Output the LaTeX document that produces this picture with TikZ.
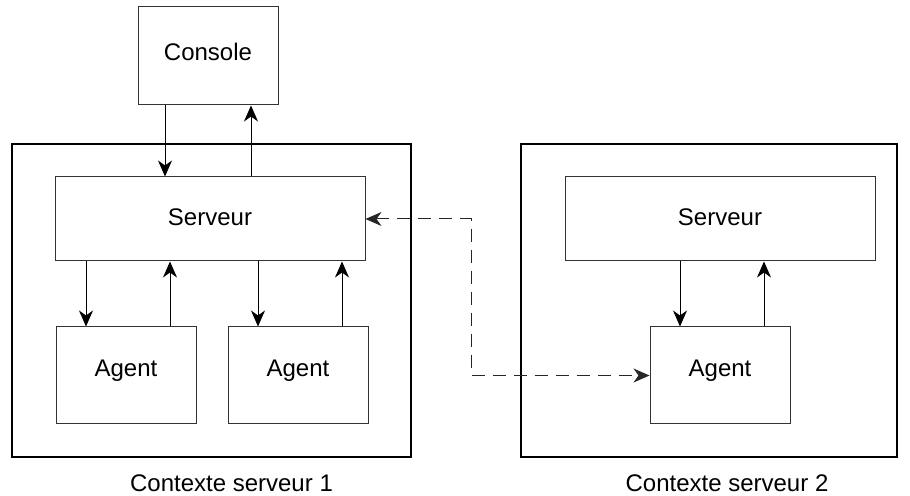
\documentclass[tikz,border=0pt]{standalone}
\usepackage{fontspec}
\setmainfont{Liberation Sans}
\usetikzlibrary{positioning,arrows.meta}

\tikzset{
  box/.style={draw=black!80, line width=0.5pt, minimum width=70pt, minimum height=49pt, text height=9pt, text depth=4.4pt},
  agentbox/.style={box, minimum height=48.5pt, text depth=7.9pt},
  serverbox/.style={box, minimum width=155pt, minimum height=42pt, text depth=2.6pt},
  ctxbox/.style={draw, line width=1.3pt, minimum width=199.5pt, minimum height=156.5pt},
  arr/.style={->, line width=0.5pt},
  dasharr/.style={<->, dash pattern=on 6.5pt off 4pt, line width=0.5pt, black!85}
}

\begin{document}
\begin{tikzpicture}[x=0.5pt, y=-0.5pt, >={Stealth[length=8pt,width=7pt,inset=2.5pt]}, font=\fontsize{12}{14}\selectfont]
  \useasboundingbox (0,0) rectangle (910,496);

  % contexts
  \node[ctxbox] (ctx1) at (211.5,300.5) {};
  \node[ctxbox, minimum width=188pt] (ctx2) at (709,300.5) {};

  \node[box] (console) at (208,56) {Console};
  \node[serverbox] (serv1) at (210,219) {Serveur};
  \node[agentbox] (agent1) at (126,375.5) {Agent};
  \node[agentbox] (agent2) at (298,375.5) {Agent};

  \node[serverbox] (serv2) at (720,219) {Serveur};
  \node[agentbox] (agent3) at (720,375.5) {Agent};

  \draw[arr] ([xshift=-21.5pt]console.south) -- ([xshift=-21.5pt]console.south |- serv1.north);
  \draw[arr] ([xshift=21.5pt]console.south |- serv1.north) -- ([xshift=21.5pt]console.south);

  \foreach \a/\s in {agent1/serv1, agent2/serv1, agent3/serv2} {
    \draw[arr] ([xshift=-20pt]\a.north |- \s.south) -- ([xshift=-20pt]\a.north);
    \draw[arr] ([xshift=22pt]\a.north) -- ([xshift=22pt]\a.north |- \s.south);
  }

  \draw[dasharr] (serv1.east) -- ++(53pt,0) |- (agent3.west);

  \node[below=4.5pt of ctx1, xshift=10pt] (lab1) {Contexte serveur 1};
  \node[below=4.5pt of ctx2, xshift=9pt] (lab2) {Contexte serveur 2};
\end{tikzpicture}
\end{document}
